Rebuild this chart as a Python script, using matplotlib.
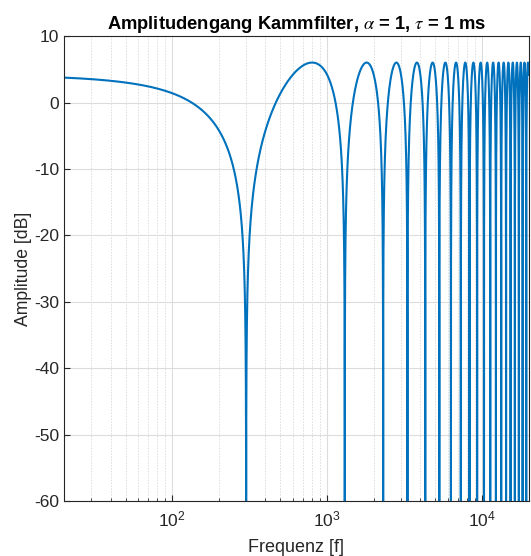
import numpy as np
import matplotlib
matplotlib.use("Agg")
import matplotlib.pyplot as plt
from matplotlib.ticker import LogLocator, NullFormatter

alpha = 1.0                 # echo gain
tau = 1e-3                  # delay in s
f_offset = 200.0            # frequency shift read from notch positions (300, 1300, 2300 ... Hz)
f_range = [20.0, 20000.0]   # x-axis limits
y_range = [-60, 10]
y_ticks = [-60, -50, -40, -30, -20, -10, 0, 10]
x_ticks = [1e2, 1e3, 1e4]
title_text = r"Amplitudengang Kammfilter, $\alpha$ = 1, $\tau$ = 1 ms"
x_label = "Frequenz [f]"
y_label = "Amplitude [dB]"

f = np.linspace(f_range[0], f_range[1], 400001)
H = 1 + alpha * np.exp(-1j * 2 * np.pi * (f + f_offset) * tau)
mag_db = 20 * np.log10(np.maximum(np.abs(H), 1e-12))

plt.rcParams['font.family'] = ['Liberation Sans', 'DejaVu Sans']
plt.rcParams['mathtext.fontset'] = 'stix'
plt.rcParams['axes.unicode_minus'] = False

fig = plt.figure(figsize=(5.31, 5.56), dpi=100)
ax = fig.add_axes([0.1205, 0.099, 0.875, 0.836])

ax.semilogx(f, mag_db, color='#0072BD', lw=1.5)
ax.set_xlim(*f_range)
ax.set_ylim(*y_range)
ax.set_yticks(y_ticks)
ax.set_xticks(x_ticks)
ax.xaxis.set_minor_locator(LogLocator(base=10, subs=np.arange(2, 10), numticks=20))
ax.xaxis.set_minor_formatter(NullFormatter())

ax.grid(True, which='major', color='#dcdcdc', lw=0.8, ls='-')
ax.grid(True, which='minor', axis='x', color='#dcdcdc', lw=0.7, ls=(0, (1.5, 1.5)))
ax.set_axisbelow(True)

ax.tick_params(which='both', direction='in', colors='#262626', labelsize=12.5, labelcolor='#262626')
ax.tick_params(which='major', length=4)
ax.tick_params(which='minor', length=2)
ax.tick_params(axis='x', which='major', pad=6)
for s in ax.spines.values():
    s.set_color('#262626')
    s.set_linewidth(0.8)

ax.set_title(title_text, fontsize=13.2, fontweight='bold', pad=5)
ax.set_xlabel(x_label, fontsize=13, color='#262626', labelpad=7)
ax.set_ylabel(y_label, fontsize=12.7, color='#262626', labelpad=1.5)

fig.savefig("out.png", dpi=100)
